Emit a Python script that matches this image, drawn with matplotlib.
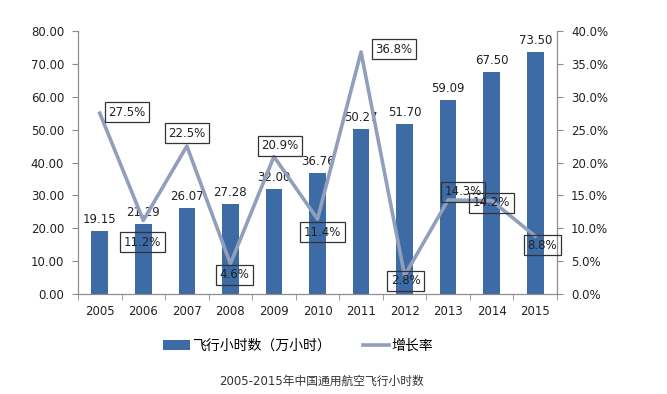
import matplotlib
matplotlib.use('Agg')
import matplotlib.pyplot as plt
import numpy as np

plt.rcParams['font.family'] = ['DejaVu Sans', 'Noto Sans CJK SC']

years = ['2005', '2006', '2007', '2008', '2009', '2010', '2011', '2012', '2013', '2014', '2015']
hours = [19.15, 21.29, 26.07, 27.28, 32.00, 36.76, 50.27, 51.70, 59.09, 67.50, 73.50]
growth = [27.5, 11.2, 22.5, 4.6, 20.9, 11.4, 36.8, 2.8, 14.3, 14.2, 8.8]
# label offsets from the line point, in pixels
label_offsets = [(27, 1), (-1, -22), (0, 13), (4, -11), (6, 11), (5, -13),
                 (33, 3), (1, -5), (15, 8), (0, -2), (7, -9)]

bar_color = '#3D6BA6'
line_color = '#919FBC'
axis_color = '#8C8C8C'

fig = plt.figure(figsize=(6.67, 3.94), dpi=100)
ax = fig.add_axes([78 / 667, 1 - 294 / 394, (557 - 78) / 667, (294 - 31) / 394])
ax2 = ax.twinx()

x = np.arange(len(years))
bars = ax.bar(x, hours, width=0.38, color=bar_color, zorder=2, label='飞行小时数（万小时）')
for xi, h in zip(x, hours):
    ax.text(xi, h + 1.5, '%.2f' % h, ha='center', va='bottom', fontsize=8.5, color='#222222')

ax.set_xlim(-0.5, len(years) - 0.5)
ax.set_ylim(0, 80)
ax.set_yticks(np.arange(0, 81, 10))
ax.set_yticklabels(['%.2f' % v for v in np.arange(0, 81, 10)])
ax.set_xticks(x)
ax.set_xticklabels(years)
ax.set_xticks(np.arange(-0.5, len(years), 1), minor=True)
ax.tick_params(axis='x', which='major', length=0, pad=8, labelsize=8.5, colors='#222222')
ax.tick_params(axis='x', which='minor', length=4, color=axis_color)
ax.tick_params(axis='y', length=4, color=axis_color, labelsize=8.5, labelcolor='#222222', pad=6)

line, = ax2.plot(x, growth, color=line_color, lw=2.6, zorder=3, label='增长率')
ax2.set_ylim(0, 40)
ax2.set_yticks(np.arange(0, 41, 5))
ax2.set_yticklabels(['%.1f%%' % v for v in np.arange(0, 41, 5)])
ax2.tick_params(axis='y', length=4, color=axis_color, labelsize=8.5, labelcolor='#222222', pad=6)

for xi, g, off in zip(x, growth, label_offsets):
    ax2.annotate('%.1f%%' % g, (xi, g), xytext=off, textcoords='offset pixels',
                 ha='center', va='center', fontsize=8.5, color='#222222', zorder=4,
                 bbox=dict(boxstyle='square,pad=0.3', fc='none', ec='#333333', lw=0.9))

for a in (ax, ax2):
    a.spines['top'].set_visible(False)
    for s in ('left', 'right', 'bottom'):
        a.spines[s].set_color(axis_color)

fig.legend(handles=[bars, line], loc='center', ncol=2, frameon=False,
           bbox_to_anchor=(298 / 667, 1 - 346 / 394),
           prop={'family': ['Noto Sans CJK SC'], 'size': 10},
           handlelength=1.9, columnspacing=2.3, handletextpad=0.15)

fig.text(322 / 667, 1 - 381 / 394, '2005-2015年中国通用航空飞行小时数',
         ha='center', va='center', fontsize=8.5, color='#333333')

fig.savefig('out.png', dpi=100)
